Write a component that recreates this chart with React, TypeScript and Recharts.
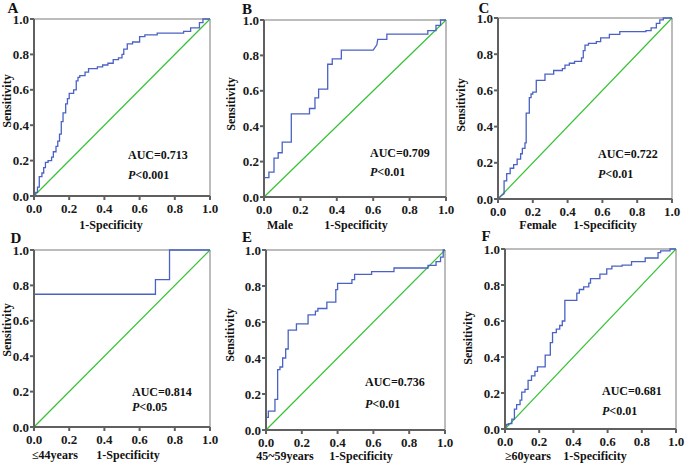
import React from "react";
import { Line, LineChart, ReferenceLine, XAxis, YAxis } from "recharts";

// ROC corner points, [1 - specificity, sensitivity]
const ROC_A: [number, number][] = [
  [0, 0], [0.01, 0.02], [0.02, 0.02], [0.02, 0.05], [0.03, 0.05], [0.03, 0.11], [0.045, 0.11],
  [0.045, 0.13], [0.055, 0.13], [0.055, 0.16], [0.065, 0.16], [0.065, 0.19], [0.08, 0.19],
  [0.08, 0.2], [0.1, 0.2], [0.1, 0.22], [0.11, 0.22], [0.11, 0.25], [0.125, 0.25], [0.125, 0.28],
  [0.135, 0.28], [0.135, 0.31], [0.145, 0.31], [0.145, 0.35], [0.155, 0.35], [0.155, 0.42],
  [0.165, 0.42], [0.165, 0.47], [0.18, 0.47], [0.18, 0.52], [0.19, 0.52], [0.19, 0.55], [0.2, 0.55],
  [0.2, 0.58], [0.225, 0.58], [0.225, 0.6], [0.24, 0.6], [0.24, 0.65], [0.25, 0.65], [0.25, 0.67],
  [0.26, 0.67], [0.26, 0.68], [0.29, 0.68], [0.29, 0.7], [0.31, 0.7], [0.31, 0.72], [0.36, 0.72],
  [0.36, 0.73], [0.39, 0.73], [0.39, 0.74], [0.42, 0.74], [0.42, 0.75], [0.45, 0.75], [0.45, 0.77],
  [0.48, 0.77], [0.48, 0.78], [0.5, 0.78], [0.5, 0.8], [0.51, 0.8], [0.51, 0.83], [0.53, 0.83],
  [0.53, 0.86], [0.56, 0.86], [0.56, 0.87], [0.6, 0.87], [0.6, 0.9], [0.63, 0.9], [0.63, 0.91],
  [0.7, 0.91], [0.7, 0.92], [0.85, 0.92], [0.85, 0.93], [0.89, 0.93], [0.89, 0.95], [0.94, 0.95],
  [0.94, 0.98], [0.96, 0.98], [0.96, 1], [1, 1],
];

const ROC_B: [number, number][] = [
  [0, 0], [0, 0.11], [0.027, 0.11], [0.027, 0.14], [0.055, 0.14], [0.055, 0.22], [0.078, 0.22],
  [0.078, 0.25], [0.1, 0.25], [0.1, 0.31], [0.15, 0.31], [0.15, 0.47], [0.25, 0.47], [0.25, 0.5],
  [0.28, 0.5], [0.28, 0.56], [0.3, 0.56], [0.3, 0.61], [0.35, 0.61], [0.35, 0.75], [0.375, 0.75],
  [0.375, 0.78], [0.425, 0.78], [0.425, 0.83], [0.6, 0.83], [0.62, 0.86], [0.625, 0.89],
  [0.675, 0.89], [0.675, 0.92], [0.9, 0.92], [0.9, 0.94], [0.945, 0.94], [0.945, 0.97],
  [0.97, 0.97], [0.97, 1], [1, 1],
];

const ROC_C: [number, number][] = [
  [0, 0], [0.02, 0.02], [0.035, 0.03], [0.035, 0.1], [0.05, 0.1], [0.05, 0.14], [0.07, 0.14],
  [0.07, 0.17], [0.09, 0.17], [0.09, 0.19], [0.11, 0.19], [0.11, 0.22], [0.13, 0.22], [0.13, 0.25],
  [0.14, 0.25], [0.14, 0.28], [0.155, 0.28], [0.155, 0.31], [0.162, 0.31], [0.162, 0.475],
  [0.18, 0.475], [0.18, 0.56], [0.19, 0.56], [0.19, 0.58], [0.2, 0.58], [0.2, 0.59], [0.22, 0.59],
  [0.22, 0.655], [0.27, 0.655], [0.27, 0.69], [0.32, 0.69], [0.32, 0.71], [0.37, 0.71],
  [0.37, 0.72], [0.385, 0.72], [0.385, 0.74], [0.41, 0.74], [0.41, 0.75], [0.44, 0.75],
  [0.44, 0.76], [0.48, 0.76], [0.48, 0.78], [0.49, 0.78], [0.49, 0.82], [0.5, 0.82], [0.5, 0.85],
  [0.52, 0.85], [0.52, 0.86], [0.565, 0.86], [0.565, 0.87], [0.59, 0.87], [0.59, 0.89],
  [0.64, 0.89], [0.64, 0.91], [0.7, 0.91], [0.7, 0.925], [0.85, 0.925], [0.85, 0.93], [0.88, 0.93],
  [0.88, 0.945], [0.91, 0.945], [0.91, 0.97], [0.93, 0.97], [0.93, 0.99], [0.95, 0.99], [0.95, 1],
  [1, 1],
];

const ROC_D: [number, number][] = [
  [0, 0], [0, 0.75], [0.69, 0.75], [0.69, 0.833], [0.77, 0.833], [0.77, 1], [1, 1],
];

const ROC_E: [number, number][] = [
  [0, 0], [0, 0.07], [0.013, 0.07], [0.013, 0.105], [0.05, 0.105], [0.05, 0.17], [0.065, 0.17],
  [0.065, 0.335], [0.078, 0.335], [0.078, 0.35], [0.093, 0.35], [0.093, 0.4], [0.11, 0.4],
  [0.11, 0.45], [0.124, 0.45], [0.124, 0.555], [0.17, 0.555], [0.17, 0.59], [0.235, 0.59],
  [0.235, 0.64], [0.276, 0.64], [0.276, 0.66], [0.29, 0.66], [0.29, 0.675], [0.34, 0.675],
  [0.34, 0.71], [0.39, 0.71], [0.39, 0.78], [0.4, 0.78], [0.4, 0.815], [0.48, 0.815],
  [0.48, 0.835], [0.495, 0.835], [0.495, 0.865], [0.59, 0.865], [0.59, 0.88], [0.715, 0.88],
  [0.715, 0.9], [0.905, 0.9], [0.905, 0.915], [0.95, 0.915], [0.95, 0.935], [0.975, 0.935],
  [0.975, 0.96], [0.99, 0.96], [0.99, 1], [1, 1],
];

const ROC_F: [number, number][] = [
  [0, 0], [0.01, 0.025], [0.02, 0.025], [0.02, 0.03], [0.04, 0.03], [0.04, 0.055], [0.055, 0.055],
  [0.055, 0.11], [0.068, 0.11], [0.068, 0.135], [0.088, 0.135], [0.088, 0.16], [0.098, 0.16],
  [0.098, 0.205], [0.117, 0.205], [0.117, 0.22], [0.135, 0.22], [0.135, 0.27], [0.155, 0.27],
  [0.155, 0.295], [0.175, 0.295], [0.175, 0.32], [0.19, 0.32], [0.19, 0.345], [0.235, 0.345],
  [0.235, 0.41], [0.265, 0.41], [0.265, 0.48], [0.278, 0.48], [0.278, 0.535], [0.3, 0.535],
  [0.3, 0.555], [0.32, 0.555], [0.32, 0.575], [0.335, 0.575], [0.335, 0.6], [0.35, 0.6],
  [0.35, 0.715], [0.42, 0.715], [0.42, 0.755], [0.435, 0.755], [0.435, 0.775], [0.46, 0.775],
  [0.46, 0.79], [0.49, 0.79], [0.49, 0.81], [0.5, 0.81], [0.5, 0.835], [0.555, 0.835],
  [0.555, 0.86], [0.595, 0.86], [0.595, 0.89], [0.625, 0.89], [0.625, 0.905], [0.685, 0.905],
  [0.685, 0.91], [0.74, 0.91], [0.74, 0.93], [0.82, 0.93], [0.82, 0.95], [0.895, 0.95],
  [0.895, 0.98], [0.91, 0.98], [0.91, 0.99], [0.965, 0.99], [0.965, 1], [1, 1],
];

const REFERENCE: [number, number][] = [[0, 0], [1, 1]];
const AXIS_TICKS = [0, 0.2, 0.4, 0.6, 0.8, 1.0];

const PANEL_LABELS = ["A", "B", "C", "D", "E", "F"];
const SUBGROUPS = ["", "Male", "Female", "≤44years", "45~59years", "≥60years"];
const AUC_TEXT = ["AUC=0.713", "AUC=0.709", "AUC=0.722", "AUC=0.814", "AUC=0.736", "AUC=0.681"];
const P_TEXT = ["<0.001", "<0.01", "<0.01", "<0.05", "<0.01", "<0.01"];
const CURVES = [ROC_A, ROC_B, ROC_C, ROC_D, ROC_E, ROC_F];

// layout (page pixels): plot box, letter, y title, subgroup, x title, AUC block
const LAYOUT = [
  { x: 34, y: 19, w: 176, h: 177, letter: [13, 13], sens: [7, 101], sub: [0, 229], xt: [111, 229], auc: [128, 159, 179] },
  { x: 264, y: 20, w: 182, h: 177, letter: [247, 14], sens: [231, 104], sub: [280, 229], xt: [356, 229], auc: [370, 157, 176] },
  { x: 498, y: 18, w: 174, h: 181, letter: [484, 13], sens: [461, 105], sub: [538, 229], xt: [605, 229], auc: [598, 158, 178] },
  { x: 34, y: 250, w: 176, h: 177, letter: [16, 243], sens: [7, 330], sub: [55, 459], xt: [128, 459], auc: [132, 396, 411] },
  { x: 266, y: 250, w: 179, h: 180, letter: [247, 242], sens: [230, 335], sub: [285, 460], xt: [361, 460], auc: [365, 386, 408] },
  { x: 505, y: 249, w: 171, h: 180, letter: [486, 241], sens: [468, 338], sub: [528, 460], xt: [595, 460], auc: [602, 395, 415] },
];

const FONT = "'Liberation Serif', 'Times New Roman', serif";
const BLUE = "#4a62c4";
const GREEN = "#36c236";
const AXIS = "#606060";
const FRAME = "#a6a6a6";

const toRows = (pts: [number, number][]) => pts.map(([fpr, tpr]) => ({ fpr, tpr }));

function RocPanel({ idx }: { idx: number }) {
  const box = LAYOUT[idx];
  const Y_W = 40;
  const M = { top: 6, right: 14, bottom: 0, left: 0 };
  const X_H = 26;
  const tick = { fontSize: 13, fontWeight: 700, fill: "#1a1a1a", fontFamily: FONT };

  return (
    <div style={{ position: "absolute", left: box.x - Y_W, top: box.y - M.top }}>
      <LineChart width={box.w + Y_W + M.right} height={box.h + M.top + X_H} margin={M}>
        <XAxis
          dataKey="fpr"
          type="number"
          domain={[0, 1]}
          ticks={AXIS_TICKS}
          interval={0}
          tickFormatter={(v: number) => v.toFixed(1)}
          height={X_H}
          stroke={AXIS}
          strokeWidth={2}
          tickSize={4}
          tickMargin={4}
          tick={tick}
        />
        <YAxis
          type="number"
          domain={[0, 1]}
          ticks={AXIS_TICKS}
          interval={0}
          tickFormatter={(v: number) => v.toFixed(1)}
          width={Y_W}
          stroke={AXIS}
          strokeWidth={2}
          tickSize={4}
          tickMargin={1}
          tick={tick}
        />
        <ReferenceLine y={1} stroke={FRAME} strokeWidth={1.5} />
        <ReferenceLine x={1} stroke={FRAME} strokeWidth={1.5} />
        <Line
          data={toRows(REFERENCE)}
          dataKey="tpr"
          type="linear"
          stroke={GREEN}
          strokeWidth={1.2}
          dot={false}
          isAnimationActive={false}
        />
        <Line
          data={toRows(CURVES[idx])}
          dataKey="tpr"
          type="linear"
          stroke={BLUE}
          strokeWidth={1.3}
          dot={false}
          isAnimationActive={false}
        />
      </LineChart>
    </div>
  );
}

export default function App() {
  const text = { fontFamily: FONT, fontWeight: 700, fill: "#111" };
  return (
    <div style={{ position: "absolute", left: 0, top: 0, width: 685, height: 463, background: "#fff" }}>
      {LAYOUT.map((_, i) => (
        <RocPanel key={i} idx={i} />
      ))}
      <svg
        width={685}
        height={463}
        style={{ position: "absolute", left: 0, top: 0, pointerEvents: "none" }}
      >
        {LAYOUT.map((l, i) => (
          <g key={i} {...text}>
            <text x={l.letter[0]} y={l.letter[1]} fontSize={15} textAnchor="middle">
              {PANEL_LABELS[i]}
            </text>
            <text
              x={l.sens[0]}
              y={l.sens[1]}
              fontSize={12}
              textAnchor="middle"
              dominantBaseline="central"
              transform={`rotate(-90 ${l.sens[0]} ${l.sens[1]})`}
            >
              Sensitivity
            </text>
            {SUBGROUPS[i] && (
              <text x={l.sub[0]} y={l.sub[1]} fontSize={12} textAnchor="middle">
                {SUBGROUPS[i]}
              </text>
            )}
            <text x={l.xt[0]} y={l.xt[1]} fontSize={12} textAnchor="middle">
              1-Specificity
            </text>
            <text x={l.auc[0]} y={l.auc[1]} fontSize={12}>
              {AUC_TEXT[i]}
            </text>
            <text x={l.auc[0]} y={l.auc[2]} fontSize={12}>
              <tspan fontStyle="italic">P</tspan>
              {P_TEXT[i]}
            </text>
          </g>
        ))}
      </svg>
    </div>
  );
}
